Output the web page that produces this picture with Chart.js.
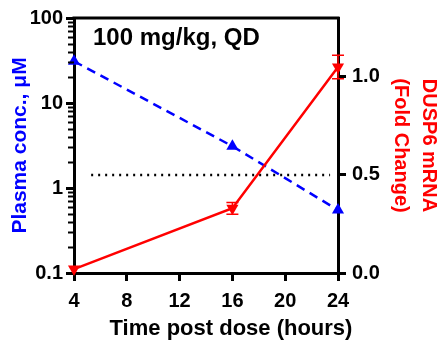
<!DOCTYPE html>
<html>
<head>
<meta charset="utf-8">
<script src="https://cdn.jsdelivr.net/npm/chart.js@4.4.1/dist/chart.umd.min.js"></script>
<style>
  html, body { margin: 0; padding: 0; background: #fff; }
</style>
</head>
<body>
<canvas id="chart" width="443" height="348"></canvas>
<script>
const hours = [4, 16, 24]
const plasmaConc = [31, 3.1, 0.55]     // μM, left log axis
const dusp6 = [0.02, 0.33, 1.05]       // fold change, right axis
const dusp6Err = [0, 0.03, 0.06]
const cutoffHours = [5.3, 23.4]
const cutoffLevel = [0.5, 0.5]
const xTicks = [4, 8, 12, 16, 20, 24]
const leftTicks = [0.1, 1, 10, 100]
const rightTicks = [0, 0.5, 1.0]
const doseLabel = "100 mg/kg, QD"
const xTitle = "Time post dose (hours)"

const FONT = "'Liberation Sans', Arial, sans-serif"
const BLUE = "#0000ff"
const RED = "#ff0000"

const pts = (xs, ys) => xs.map((x, i) => ({ x: x, y: ys[i] }))

// error bars, minor log ticks, top frame line, dose label and x title
const extras = {
  id: "extras",
  beforeDatasetsDraw(chart) {
    const ctx = chart.ctx
    const x = chart.scales.x
    const y1 = chart.scales.y1
    ctx.save()
    ctx.strokeStyle = RED
    ctx.lineWidth = 1.5
    hours.forEach((h, i) => {
      const e = dusp6Err[i]
      if (!e) return
      const px = x.getPixelForValue(h)
      const top = y1.getPixelForValue(dusp6[i] + e)
      const bot = y1.getPixelForValue(dusp6[i] - e)
      ctx.beginPath()
      ctx.moveTo(px, top); ctx.lineTo(px, bot)
      ctx.moveTo(px - 6, top); ctx.lineTo(px + 6, top)
      ctx.moveTo(px - 6, bot); ctx.lineTo(px + 6, bot)
      ctx.stroke()
    })
    ctx.restore()
  },
  afterDraw(chart) {
    const ctx = chart.ctx
    const area = chart.chartArea
    const y = chart.scales.y
    ctx.save()
    ctx.strokeStyle = "#000"
    ctx.lineWidth = 2
    for (let d = 0.1; d < 100; d *= 10) {
      for (let k = 2; k <= 9; k++) {
        const py = Math.round(y.getPixelForValue(d * k)) + 0.5
        ctx.beginPath()
        ctx.moveTo(area.left - 6, py)
        ctx.lineTo(area.left, py)
        ctx.stroke()
      }
    }
    ctx.lineWidth = 3
    ctx.beginPath()
    ctx.moveTo(area.left - 1.5, area.top)
    ctx.lineTo(area.right + 1.5, area.top)
    ctx.stroke()

    ctx.fillStyle = "#000"
    ctx.font = "bold 24px " + FONT
    ctx.textBaseline = "alphabetic"
    ctx.textAlign = "left"
    ctx.fillText(doseLabel, 93, 45)

    ctx.font = "bold 22px " + FONT
    ctx.textAlign = "center"
    ctx.fillText(xTitle, 231, 335)
    ctx.restore()
  }
}

const tickFont = { family: FONT, size: 20, weight: "bold" }
const axisGrid = {
  display: true,
  drawOnChartArea: false,
  drawTicks: true,
  tickLength: 8,
  tickWidth: 3,
  color: "#000",
  lineWidth: 3
}
const axisBorder = { display: true, color: "#000", width: 3 }

new Chart(document.getElementById("chart"), {
  type: "line",
  data: {
    datasets: [
      {
        label: "DUSP6 mRNA",
        data: pts(hours, dusp6),
        yAxisID: "y1",
        borderColor: RED,
        backgroundColor: RED,
        borderWidth: 2.5,
        pointStyle: "triangle",
        pointRotation: 180,
        pointRadius: 7,
        pointBorderWidth: 0,
        clip: false,
        order: 0
      },
      {
        label: "Plasma conc.",
        data: pts(hours, plasmaConc),
        yAxisID: "y",
        borderColor: BLUE,
        backgroundColor: BLUE,
        borderWidth: 2.5,
        borderDash: [9, 6],
        pointStyle: "triangle",
        pointRadius: 7,
        pointBorderWidth: 0,
        clip: false,
        order: 1
      },
      {
        label: "cutoff",
        data: pts(cutoffHours, cutoffLevel),
        yAxisID: "y1",
        borderColor: "#000",
        borderWidth: 2.5,
        borderDash: [2, 5],
        pointRadius: 0,
        order: 2
      }
    ]
  },
  options: {
    responsive: false,
    animation: false,
    devicePixelRatio: 1,
    layout: { padding: { top: 10, left: 0, right: 0, bottom: 0 } },
    plugins: {
      legend: { display: false },
      tooltip: { enabled: false }
    },
    scales: {
      x: {
        type: "linear",
        min: 4,
        max: 24,
        afterBuildTicks: (s) => { s.ticks = xTicks.map(v => ({ value: v })) },
        afterFit: (s) => { s.height = 75 },
        grid: axisGrid,
        border: axisBorder,
        ticks: { color: "#000", font: tickFont, padding: 8, maxRotation: 0 }
      },
      y: {
        type: "logarithmic",
        position: "left",
        min: 0.1,
        max: 100,
        afterBuildTicks: (s) => { s.ticks = leftTicks.map(v => ({ value: v })) },
        afterFit: (s) => { s.width = 74 },
        grid: axisGrid,
        border: axisBorder,
        ticks: { color: "#000", font: tickFont, padding: 3, callback: (v) => String(v) },
        title: {
          display: true,
          text: "Plasma conc., μM",
          color: BLUE,
          font: { family: FONT, size: 21, weight: "bold" },
          padding: { top: 8, bottom: 0 }
        }
      },
      y1: {
        type: "linear",
        position: "right",
        min: 0,
        max: 1.3,
        afterBuildTicks: (s) => { s.ticks = rightTicks.map(v => ({ value: v })) },
        afterFit: (s) => { s.width = 105 },
        grid: axisGrid,
        border: axisBorder,
        ticks: { color: "#000", font: tickFont, padding: 6, callback: (v) => v.toFixed(1) },
        title: {
          display: true,
          text: ["DUSP6 mRNA", "(Fold Change)"],
          color: RED,
          font: { family: FONT, size: 20, weight: "bold", lineHeight: 1.4 },
          padding: { top: 0, bottom: 0 }
        }
      }
    }
  },
  plugins: [extras]
})
</script>
</body>
</html>
